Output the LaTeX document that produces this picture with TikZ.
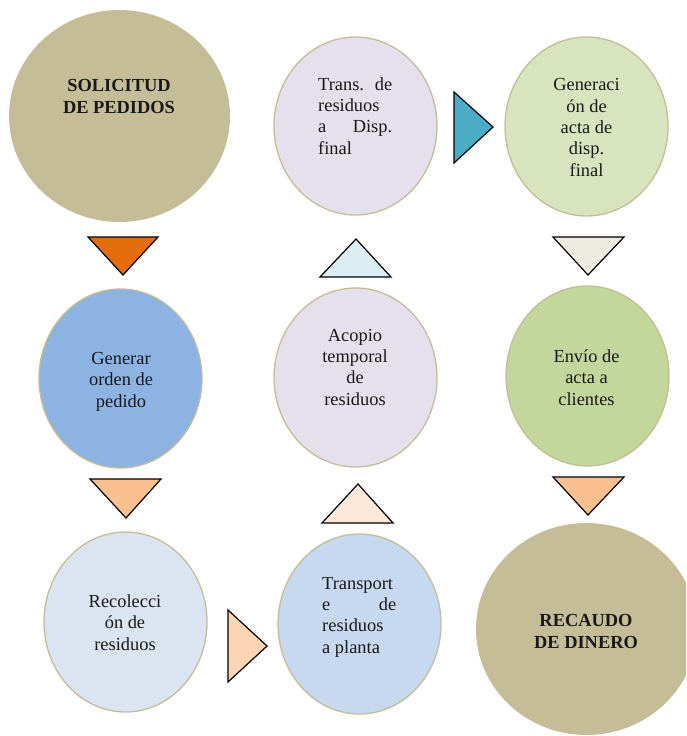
\documentclass[tikz,border=0pt]{standalone}
\usepackage{fontspec}
\setmainfont{Liberation Serif}
\usetikzlibrary{shapes.geometric}
\definecolor{cTan}{HTML}{C4BD97}
\definecolor{cBorder}{HTML}{C4BD97}
\definecolor{cOrange}{HTML}{E46C0A}
\definecolor{cPeach}{HTML}{FAC090}
\definecolor{cPeachL}{HTML}{FCD5B5}
\definecolor{cPeachXL}{HTML}{FDE9D9}
\definecolor{cBlueA}{HTML}{8DB3E2}
\definecolor{cBlueB}{HTML}{DBE5F1}
\definecolor{cBlueC}{HTML}{C6D9F1}
\definecolor{cSky}{HTML}{DBEEF4}
\definecolor{cLilac}{HTML}{E5E0EC}
\definecolor{cTeal}{HTML}{4BACC6}
\definecolor{cGreenL}{HTML}{D7E4BD}
\definecolor{cGreen}{HTML}{C3D69B}
\definecolor{cBeige}{HTML}{EEECE1}
\begin{document}
\begin{tikzpicture}[x=1pt,y=-1pt,
  blob/.style={ellipse, draw=cBorder, line width=1.3pt, inner sep=0pt},
  bigblob/.style={ellipse, fill=cTan, inner sep=0pt},
  txt/.style={font=\fontsize{18.4}{21.3}\selectfont, inner sep=0pt, align=center, anchor=base, text=black!90},
  ltxt/.style={txt, align=left, anchor=base west},
  btxt/.style={txt, font=\fontsize{18.4}{21.3}\selectfont\bfseries},
  tri/.style={draw=black, line width=1.2pt, line join=miter}]
\useasboundingbox (0,0) rectangle (686,736);
\clip (0,0) rectangle (686,736);

% circles
\node[bigblob, minimum width=221pt, minimum height=212pt] (c1) at (119.5,116) {};
\node[blob, fill=cBlueA, minimum width=163pt, minimum height=179pt] (c2) at (120.5,378.5) {};
\node[blob, fill=cBlueB, minimum width=163pt, minimum height=180pt] (c3) at (125.5,622) {};
\node[blob, fill=cBlueC, minimum width=163pt, minimum height=180pt] (c4) at (359.5,624) {};
\node[blob, fill=cLilac, minimum width=163pt, minimum height=179pt] (c5) at (355.5,377.5) {};
\node[blob, fill=cLilac, minimum width=163pt, minimum height=178pt] (c6) at (355.5,126) {};
\node[blob, fill=cGreenL, minimum width=163pt, minimum height=179pt] (c7) at (586.5,126.5) {};
\node[blob, fill=cGreen, minimum width=163pt, minimum height=180pt] (c8) at (587.5,376) {};
\node[bigblob, minimum width=221pt, minimum height=212pt] (c9) at (586.5,629) {};

% texts (anchor = baseline of the last line)
\node[btxt] (t1) at (119,113) {SOLICITUD\\DE PEDIDOS};
\node[txt] (t2) at (121,407) {Generar\\orden de\\pedido};
\node[txt] (t3) at (125,650) {Recolecci\\ón de\\residuos};
\node[ltxt] (t4) at (322,653) {Transport\\\makebox[74pt][s]{e de}\\residuos\\a planta};
\node[txt] (t5) at (355,405) {Acopio\\temporal\\de\\residuos};
\node[ltxt] (t6) at (318,154) {\makebox[74pt][s]{Trans. de}\\residuos\\\makebox[74pt][s]{a Disp.}\\final};
\node[txt] (t7) at (586.5,176) {Generaci\\ón de\\acta de\\disp.\\final};
\node[txt] (t8) at (586.5,405) {Envío de\\acta a\\clientes};
\node[btxt] (t9) at (586,648) {RECAUDO\\DE DINERO};

% triangles
\draw[tri, fill=cOrange] (88,237) -- (158,237) -- (123,275) -- cycle;
\draw[tri, fill=cPeach] (90,479) -- (161,479) -- (126,518) -- cycle;
\draw[tri, fill=cPeachL] (228,610) -- (267,646) -- (228,682) -- cycle;
\draw[tri, fill=cPeachXL] (322,523) -- (358,484) -- (393,523) -- cycle;
\draw[tri, fill=cSky] (320,277) -- (356,239) -- (391,277) -- cycle;
\draw[tri, fill=cTeal] (454,92) -- (493,127) -- (454,163) -- cycle;
\draw[tri, fill=cBeige] (553,237) -- (624,237) -- (588,275) -- cycle;
\draw[tri, fill=cPeach] (553,477) -- (624,477) -- (588,515) -- cycle;
\end{tikzpicture}
\end{document}
